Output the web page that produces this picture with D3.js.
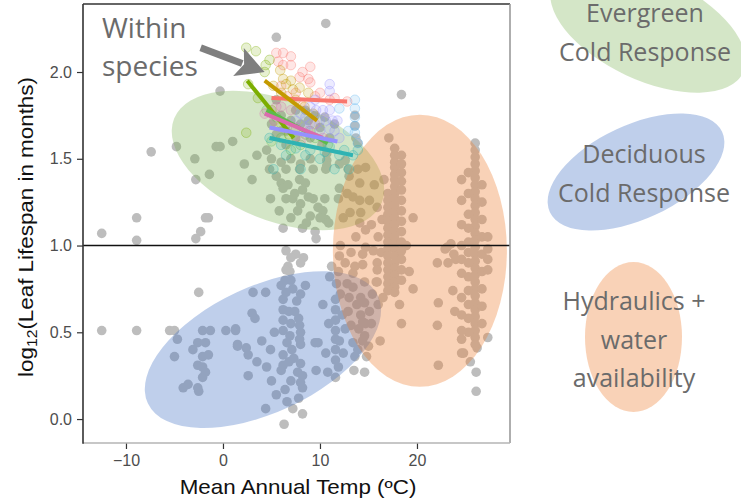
<!DOCTYPE html>
<html>
<head>
<meta charset="utf-8">
<script src="https://cdn.jsdelivr.net/npm/d3@7"></script>
<style>
  body { margin: 0; background: #fff; }
  svg { display: block; }
  .tick text { font-family: "Liberation Sans", Arial, sans-serif; font-size: 16px; fill: #4d4d4d; }
  .tick line { stroke: #333; stroke-width: 1.2; }
  .note { font-family: "Open Sans", sans-serif; fill: #6b6b6b; }
  .title { font-family: "Liberation Sans", Arial, sans-serif; fill: #111; }
</style>
</head>
<body>
<svg id="chart" width="741" height="502"></svg>
<script>
// ************************************
// Data
// ************************************

const tempTicks = [-10, 0, 10, 20];
const llTicks = [0, 0.5, 1, 1.5, 2];

// scattered sites: [mean annual temp, log12 leaf lifespan]
const grayPts = [
  [-0.3,1.89],[-7.4,1.54],[-4.8,1.57],[-0.7,1.57],[-0.3,1.57],[-2.9,1.50],[-1.4,1.41],[-2.8,1.38],
  [-8.9,1.16],[-1.8,1.16],[-1.5,1.16],[-12.5,1.07],[-8.9,1.03],[-2.3,1.08],[-2.8,1.04],
  [-2.5,0.73],[-12.5,0.51],[-8.9,0.51],[-5.5,0.51],[-5.0,0.51],[-4.7,0.46],[-5.0,0.36],[-2.1,0.51],
  [-1.3,0.51],[0.3,0.51],[1.3,0.51],[-2.6,0.44],[-1.8,0.44],[-3.1,0.40],[-2.1,0.36],[-1.5,0.37],
  [-2.6,0.31],[-2.1,0.30],[-1.8,0.27],[-2.1,0.24],[-4.1,0.18],[-3.6,0.20],[-2.6,0.18],[-2.5,0.16],[1.5,0.42],
  [3.0,0.61],[1.3,0.52],[1.5,0.43],[2.4,0.41],[2.6,0.37],[2.6,0.25],
  [3.3,0.58],[4.0,0.45],[3.5,0.33],[4.5,0.30],[4.9,0.40],[5.3,0.50],[5.0,0.22],
  [6.2,0.69],[6.2,0.63],[6.2,0.57],[6.2,0.51],[6.2,0.37],[6.2,0.31],[6.0,0.28],
  [8.0,0.32],[7.7,0.27],[8.2,0.25],[8.0,0.21],[8.2,0.18],[6.4,0.17],[5.5,0.14],[4.4,0.06],[8.2,0.03],[6.3,-0.03],
  [7.8,0.58],[7.9,0.54],[8.0,0.50],[7.9,0.46],[8.0,0.43],[6.8,0.62],[7.0,0.55],[6.9,0.48],
  [6.4,0.80],[7.0,0.80],[7.6,0.68],[7.4,0.62],[6.6,0.44],[7.1,0.40],[7.3,0.35],[6.8,0.33],[7.0,0.22],
  [6.6,0.10],[7.8,0.12],[7.2,0.06],
  [3.1,0.73],[4.4,0.73],[6.0,0.77],[6.5,0.73],[7.2,0.75],[8.0,0.72],[8.5,0.77],
  [6.5,0.97],[7.5,0.95],[8.3,0.93],[8.0,0.90],[6.7,0.88],[6.9,0.85],[6.5,0.86],[7.0,0.93],
  [9.5,0.44],[9.8,0.44],[9.6,0.28],[10.8,0.27],[11.6,0.24],[14.6,0.27],
  [11.6,0.69],[11.6,0.63],[11.6,0.57],[11.6,0.51],[11.6,0.46],[11.6,0.40],[11.6,0.34],
  [10.3,0.66],[13.4,0.44],[13.6,0.36],[14.2,0.60],[14.4,0.56],[14.6,0.48],
  [11.0,0.82],[11.7,0.78],[12.1,0.72],[11.2,0.88],[11.9,0.85],[12.3,0.60],[12.0,0.45],[12.4,0.38],
  [11.9,0.30],[12.6,0.52],[10.9,0.55],[10.6,0.38],[13.0,0.70],[12.8,0.78],
  [12.9,0.62],[13.8,0.66],[14.2,0.70],[14.0,0.52],[13.2,0.54],[13.9,0.40],[14.8,0.36],[14.4,0.45],
  [15.1,0.62],[15.3,0.55],[15.0,0.42],[13.5,0.28],[16.2,0.45],[14.6,0.67],[14.7,0.55],[13.4,0.84],[13.4,0.76],
  [6.0,1.36],[6.7,1.35],[7.9,1.38],[8.5,1.36],[8.2,1.32],[8.0,1.24],[9.8,1.22],[10.3,1.20],[10.6,1.15],
  [6.2,1.10],[8.2,1.10],
  [4.8,1.44],[6.5,1.44],[7.9,1.44],[9.3,1.44],[10.6,1.44],[12.9,1.44],
  [4.9,1.27],[6.5,1.27],[7.2,1.27],[9.3,1.27],[10.5,1.27],[11.9,1.27],
  [5.5,1.40],[6.2,1.33],[7.4,1.30],[7.7,1.20],[8.8,1.28],[9.0,1.17],[5.8,1.20],[7.0,1.16],[8.6,1.13],[9.5,1.08],
  [10.0,1.16],[10.9,1.13],[9.6,1.04],[2.2,1.47],[3.5,1.52],[1.0,1.60],[3.0,1.38],
  [5.0,1.50],[6.0,1.48],[7.0,1.50],[8.0,1.47],[9.0,1.50],[10.7,1.53],[10.7,1.49],[10.7,1.46],[12.0,1.47],[4.5,1.55],
  [13.6,1.75],[13.6,1.69],[13.9,1.59],[13.7,1.62],[5.5,2.20],[10.6,2.28],
  [13.9,1.44],[14.7,1.45],[14.1,1.36],[13.4,1.28],[14.1,1.26],[15.1,1.26],[12.4,1.16],[13.1,1.19],[14.2,1.19],
  [14.1,1.13],[14.7,1.09],[13.7,1.05],[12.1,1.00],[14.7,0.99],[14.4,0.95],[15.5,0.97],[14.4,0.89],[15.8,0.79],[14.6,0.79],
  [12.6,1.49],[13.0,1.40],[12.0,1.33],[12.8,1.30],[15.6,1.35],[15.9,1.22],[15.3,1.12],[16.0,1.05],[13.2,0.96],
  [12.6,0.90],[13.6,0.88],[15.9,0.90],[15.9,0.86],[16.3,0.96],[15.4,0.72],[16.0,0.66],[12.0,0.94],
  [17.1,1.62],[18.2,0.66],[18.4,0.55],[19.6,1.16],[19.6,0.75],[15.9,0.79],[18.9,1.00],[19.2,0.85],
  [16.5,0.70],[16.4,1.15],[16.6,1.38],[18.4,1.87],
  [22.9,0.98],[23.5,1.01],[23.8,0.95],[24.0,0.92],[23.2,0.90],[22.1,0.90],[23.1,0.99],
  [22.2,0.67],[22.1,0.54],[22.2,0.31],[26.1,0.27],[26.1,0.16],[24.8,0.38],[26.2,0.41],[23.7,0.74],[23.9,0.62],[25.5,0.33],
  // sites under the within-species cloud
  [5.0,1.70],[5.5,1.64],[6.0,1.75],[6.5,1.66],[7.0,1.72],[7.5,1.62],[8.0,1.70],[8.5,1.78],[9.0,1.62],[9.5,1.75],
  [10.0,1.68],[10.5,1.74],[11.0,1.62],[6.5,1.58],[7.5,1.78],[5.5,1.84],[6.0,1.66],[8.8,1.72],[10.2,1.58],[11.5,1.70]
];

// dense site columns (same temperature, many species)
const colTemps = [17.0, 17.7, 18.4, 26.0, 26.7, 25.3, 24.6, 27.3];
const colValues = [
  [1.30,1.26,1.22,1.18,1.14,1.10,1.06,1.02,0.98,0.94,0.90,0.86,0.82,0.78,0.74],
  [1.56,1.52,1.48,1.45,1.41,1.38,1.34,1.30,1.27,1.23,1.19,1.16,1.12,1.08,1.05,1.01,0.98,0.94,0.90,0.87,0.83,0.79,0.76,0.73],
  [1.52,1.47,1.42,1.37,1.32,1.26,1.20,1.14,1.08,1.02,0.97,0.92,0.86,0.80],
  [1.59,1.55,1.51,1.47,1.43,1.39,1.35,1.31,1.27,1.23,1.19,1.15,1.11,1.07,1.03,0.99,0.95,0.91,0.87,0.83,0.79,0.75,0.71,0.67,0.63,0.59,0.55,0.51,0.47,0.43],
  [1.35,1.25,1.15,1.05,0.95,0.85,0.75,0.65,0.55],
  [1.42,1.30,1.18,1.10,1.02,0.96,0.90,0.82,0.74,0.66,0.58,0.50],
  [1.38,1.26,1.12,1.00,0.92,0.84,0.70,0.60,0.51,0.46,0.38],
  [1.05,0.98,0.92,0.86,0.47]
];

// within-species data
const speciesColors = ["#F8766D", "#C49A00", "#7CAE00", "#5DBB4C", "#DB6BAE", "#9590FF", "#2FB3B3", "#62B6F0"];
const speciesPts = [
  [[5.5,2.11],[6.2,2.11],[7.0,2.09],[5.7,2.06],[6.2,2.04],[7.0,2.04],[8.2,2.0],[9.0,2.03],[7.9,1.97],[8.8,1.96],
   [9.0,1.94],[10.0,1.88],[11.5,1.85],[12.8,1.83],[6.6,1.86],[8.0,1.82],[7.5,1.88],[9.5,1.86],[11.0,1.84],[6.0,1.92]],
  [[5.9,2.01],[6.2,1.96],[7.0,1.95],[6.5,1.93],[7.2,1.90],[7.9,1.91],[6.0,1.88],[5.2,1.92],[8.4,1.80],[9.3,1.76],[7.5,1.84],[8.8,1.88]],
  [[2.4,2.14],[3.4,2.12],[4.4,2.04],[4.3,2.0],[4.8,2.07],[2.6,1.93],[2.4,1.65],[3.6,1.85],[5.0,1.78],[6.0,1.70],[6.8,1.64]],
  [[4.5,1.78],[5.5,1.74],[6.5,1.70],[7.5,1.67],[8.5,1.64],[9.5,1.62],[10.8,1.58],[5.0,1.60],[7.0,1.55],[6.0,1.62],[8.0,1.58],[9.0,1.66]],
  [[4.3,1.76],[5.3,1.72],[6.5,1.70],[7.5,1.68],[8.8,1.66],[10.3,1.62],[6.0,1.80],[8.0,1.60],[5.5,1.80],[7.0,1.78],[9.5,1.70]],
  [[11.0,1.93],[11.0,1.89],[9.5,1.84],[9.6,1.78],[10.3,1.78],[11.0,1.78],[10.0,1.72],[10.6,1.72],[11.3,1.72],[11.8,1.72],
   [11.0,1.67],[9.0,1.70],[8.5,1.74],[12.0,1.62],[7.5,1.72],[8.0,1.76],[9.0,1.80],[8.5,1.68],[10.0,1.66],[11.5,1.66]],
  [[4.8,1.62],[6.0,1.58],[7.5,1.56],[9.0,1.55],[10.5,1.54],[12.0,1.52],[13.4,1.52],[5.2,1.44],[8.0,1.44],[11.5,1.44],
   [13.0,1.44],[13.9,1.55],[6.5,1.52],[8.5,1.52],[10.0,1.50],[11.0,1.57],[12.5,1.55]],
  [[13.6,1.84],[13.6,1.79],[13.6,1.74],[13.6,1.69],[13.6,1.65],[12.9,1.66],[13.9,1.59],[12.0,1.79]]
];
// fitted within-species slopes: start and end [temp, ll]
const fitStart = [[5.0,1.85],[4.3,1.95],[2.5,1.95],[4.5,1.78],[4.3,1.76],[4.8,1.68],[4.8,1.62]];
const fitEnd   = [[12.8,1.83],[9.7,1.72],[7.3,1.62],[10.8,1.59],[10.3,1.62],[11.8,1.60],[13.4,1.52]];

// response zones
const zoneColors = ["#70AD47", "#4472C4", "#ED7D31"];
const zoneCenters = [[5.67, 1.49], [4.12, 0.40], [20.3, 0.97]];
const zoneLabels = [["Evergreen", "Cold Response"], ["Deciduous", "Cold Response"], ["Hydraulics +", "water", "availability"]];

const arrowFrom = [-2.3, 2.14];
const arrowTo = [4.3, 2.0];
const noteLines = ["Within", "species"];

// ************************************
// Layout
// ************************************

const svg = d3.select("#chart");
const plot = {left: 83, right: 510, top: 4, bottom: 443};

const x = d3.scaleLinear().domain([-14.43, 29.59]).range([plot.left, plot.right]);
const y = d3.scaleLinear().domain([-0.138, 2.392]).range([plot.bottom, plot.top]);

const g = svg.append("g");

// gray points
const allGray = grayPts.concat(colTemps.flatMap((t, i) => colValues[i].map(v => [t, v])));
g.selectAll(".site")
  .data(allGray)
  .enter().append("circle")
    .attr("class", "site")
    .attr("cx", d => x(d[0]))
    .attr("cy", d => y(d[1]))
    .attr("r", 4.8)
    .attr("fill", "#bdbdbd");

// zone ellipses (drawn over the points, translucent)
const zoneShape = [{rx: 112, ry: 60, rot: 22}, {rx: 127, ry: 63, rot: -25}, {rx: 87, ry: 136, rot: 0}];
g.selectAll(".zone")
  .data(zoneCenters)
  .enter().append("ellipse")
    .attr("class", "zone")
    .attr("transform", (d, i) => `translate(${x(d[0])},${y(d[1])}) rotate(${zoneShape[i].rot})`)
    .attr("rx", (d, i) => zoneShape[i].rx)
    .attr("ry", (d, i) => zoneShape[i].ry)
    .attr("fill", (d, i) => zoneColors[i])
    .attr("fill-opacity", (d, i) => [0.3, 0.34, 0.35][i]);

// horizontal reference at 1 (12 months)
g.append("line")
  .attr("x1", plot.left).attr("x2", plot.right)
  .attr("y1", y(1)).attr("y2", y(1))
  .attr("stroke", "#111").attr("stroke-width", 1.4);

// within-species points and fits
speciesPts.forEach((pts, i) => {
  g.append("g").selectAll("circle")
    .data(pts)
    .enter().append("circle")
      .attr("cx", d => x(d[0]))
      .attr("cy", d => y(d[1]))
      .attr("r", 4.8)
      .attr("fill", speciesColors[i]).attr("fill-opacity", 0.18)
      .attr("stroke", speciesColors[i]).attr("stroke-opacity", 0.35);
});

g.selectAll(".fit")
  .data(fitStart)
  .enter().append("line")
    .attr("class", "fit")
    .attr("x1", d => x(d[0])).attr("y1", d => y(d[1]))
    .attr("x2", (d, i) => x(fitEnd[i][0])).attr("y2", (d, i) => y(fitEnd[i][1]))
    .attr("stroke", (d, i) => speciesColors[i])
    .attr("stroke-width", 4)
    .attr("stroke-linecap", "butt");

// axes
const xAxis = svg.append("g")
  .attr("transform", `translate(0,${plot.bottom})`)
  .call(d3.axisBottom(x).tickValues(tempTicks).tickSize(6).tickPadding(6));
const yAxis = svg.append("g")
  .attr("transform", `translate(${plot.left},0)`)
  .call(d3.axisLeft(y).tickValues(llTicks).tickFormat(d3.format(".1f")).tickSize(6).tickPadding(5));
xAxis.select(".domain").remove();
yAxis.select(".domain").remove();

// panel border: dark left/top, light right/bottom
svg.append("line").attr("x1", plot.left).attr("x2", plot.right).attr("y1", plot.top).attr("y2", plot.top)
  .attr("stroke", "#333").attr("stroke-width", 1.6);
svg.append("line").attr("x1", plot.right).attr("x2", plot.right).attr("y1", plot.top).attr("y2", plot.bottom)
  .attr("stroke", "#9a9a9a").attr("stroke-width", 1.6);
svg.append("line").attr("x1", plot.left).attr("x2", plot.right).attr("y1", plot.bottom).attr("y2", plot.bottom)
  .attr("stroke", "#b5b5b5").attr("stroke-width", 1.6);
svg.append("line").attr("x1", plot.left).attr("x2", plot.left).attr("y1", plot.top).attr("y2", plot.bottom + 0.8)
  .attr("stroke", "#333").attr("stroke-width", 1.6);

// axis titles
svg.append("text").attr("class", "title")
  .attr("transform", "translate(298,494) scale(1.12,1)")
  .attr("text-anchor", "middle").attr("font-size", 20)
  .text("Mean Annual Temp (ºC)");

const yt = svg.append("text").attr("class", "title")
  .attr("transform", "translate(33,227) rotate(-90) scale(1.12,1)")
  .attr("text-anchor", "middle").attr("font-size", 20);
yt.append("tspan").text("log");
yt.append("tspan").attr("font-size", 14).attr("dy", 4).text("12");
yt.append("tspan").attr("dy", -4).text("(Leaf Lifespan in months)");

// "Within species" note and arrow
const note = svg.append("text").attr("class", "note").attr("font-size", 28);
noteLines.forEach((s, i) => note.append("tspan").attr("x", 102).attr("y", 38 + i * 38).text(s));

const ax0 = x(arrowFrom[0]), ay0 = y(arrowFrom[1]), ax1 = x(arrowTo[0]), ay1 = y(arrowTo[1]);
const len = Math.hypot(ax1 - ax0, ay1 - ay0);
const ux = (ax1 - ax0) / len, uy = (ay1 - ay0) / len;
const headLen = 28, headW = 15;
const bx = ax1 - ux * headLen, by = ay1 - uy * headLen;
svg.append("line")
  .attr("x1", ax0).attr("y1", ay0).attr("x2", bx + ux * 4).attr("y2", by + uy * 4)
  .attr("stroke", "#7f7f7f").attr("stroke-width", 7);
svg.append("polygon")
  .attr("points", [[ax1, ay1], [bx - uy * headW, by + ux * headW], [bx + ux * 6, by + uy * 6], [bx + uy * headW, by - ux * headW]].map(p => p.join(",")).join(" "))
  .attr("fill", "#7f7f7f");

// zone key on the right
const keyShape = [{cx: 648, cy: 28, rx: 105, ry: 52, rot: 25}, {cx: 636, cy: 172, rx: 95, ry: 47, rot: -25}, {cx: 633.5, cy: 337, rx: 48.5, ry: 75, rot: 0}];
const keyText = [{x: 645, y: 22}, {x: 644, y: 163}, {x: 634, y: 310}];
zoneLabels.forEach((lines, i) => {
  const k = keyShape[i];
  svg.append("ellipse")
    .attr("transform", `translate(${k.cx},${k.cy}) rotate(${k.rot})`)
    .attr("rx", k.rx).attr("ry", k.ry)
    .attr("fill", zoneColors[i]).attr("fill-opacity", [0.3, 0.34, 0.35][i]);
  const t = svg.append("text").attr("class", "note").attr("font-size", 25).attr("text-anchor", "middle");
  lines.forEach((s, j) => t.append("tspan").attr("x", keyText[i].x).attr("y", keyText[i].y + j * 38.5).text(s));
});
</script>
</body>
</html>
